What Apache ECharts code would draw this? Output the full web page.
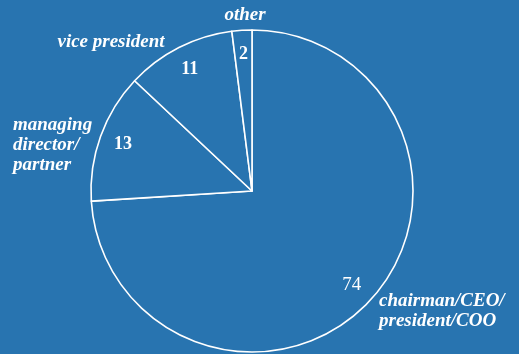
<!DOCTYPE html>
<html>
<head>
<meta charset="utf-8">
<style>
  html, body { margin: 0; padding: 0; background: #2874b0; }
  #chart { width: 519px; height: 354px; }
</style>
<script src="https://cdn.jsdelivr.net/npm/echarts@6/dist/echarts.min.js"></script>
</head>
<body>
<div id="chart"></div>
<script>
// Share of respondents by job title (percent)
const categories = ['chairman/CEO/\npresident/COO', 'managing\ndirector/\npartner', 'vice president', 'other'];
const shares = [74, 13, 11, 2];

const bg = '#2874b0';
const serif = '"Liberation Serif", "DejaVu Serif", serif';

// Fixed spots for the category names around the pie
const namePos = [
  { x: 379, y: 311, align: 'left' },
  { x: 13, y: 145, align: 'left' },
  { x: 111, y: 42, align: 'center' },
  { x: 245, y: 15, align: 'center' }
];

const chart = echarts.init(document.getElementById('chart'));
chart.setOption({
  backgroundColor: bg,
  animation: false,
  series: [
    {
      // slices with white outlines and category names
      type: 'pie',
      center: [252, 191],
      radius: [0, 161],
      startAngle: 90,
      clockwise: true,
      silent: true,
      itemStyle: { color: bg, borderColor: '#ffffff', borderWidth: 1.6 },
      label: {
        show: true,
        position: 'outside',
        formatter: p => p.name,
        color: '#ffffff',
        fontFamily: serif,
        fontStyle: 'italic',
        fontWeight: 'bold',
        fontSize: 19,
        lineHeight: 20,
        overflow: 'none',
        width: 200
      },
      labelLine: { show: false },
      labelLayout: p => {
        const q = namePos[p.dataIndex];
        return { x: q.x, y: q.y, align: q.align, verticalAlign: 'middle' };
      },
      emphasis: { disabled: true },
      data: categories.map((c, i) => ({ name: c, value: shares[i] }))
    },
    {
      // invisible ring that carries the value labels
      type: 'pie',
      center: [252, 191],
      radius: [108, 160],
      startAngle: 90,
      clockwise: true,
      silent: true,
      itemStyle: { color: 'rgba(0,0,0,0)', borderWidth: 0 },
      label: {
        show: true,
        position: 'inside',
        formatter: p => String(p.value),
        color: '#ffffff',
        fontFamily: serif,
        fontSize: 18,
        fontWeight: 'bold'
      },
      labelLine: { show: false },
      emphasis: { disabled: true },
      data: categories.map((c, i) => ({
        name: c,
        value: shares[i],
        label: i === 0 ? { fontWeight: 'normal', fontSize: 19 } : {}
      }))
    }
  ]
});
</script>
</body>
</html>
